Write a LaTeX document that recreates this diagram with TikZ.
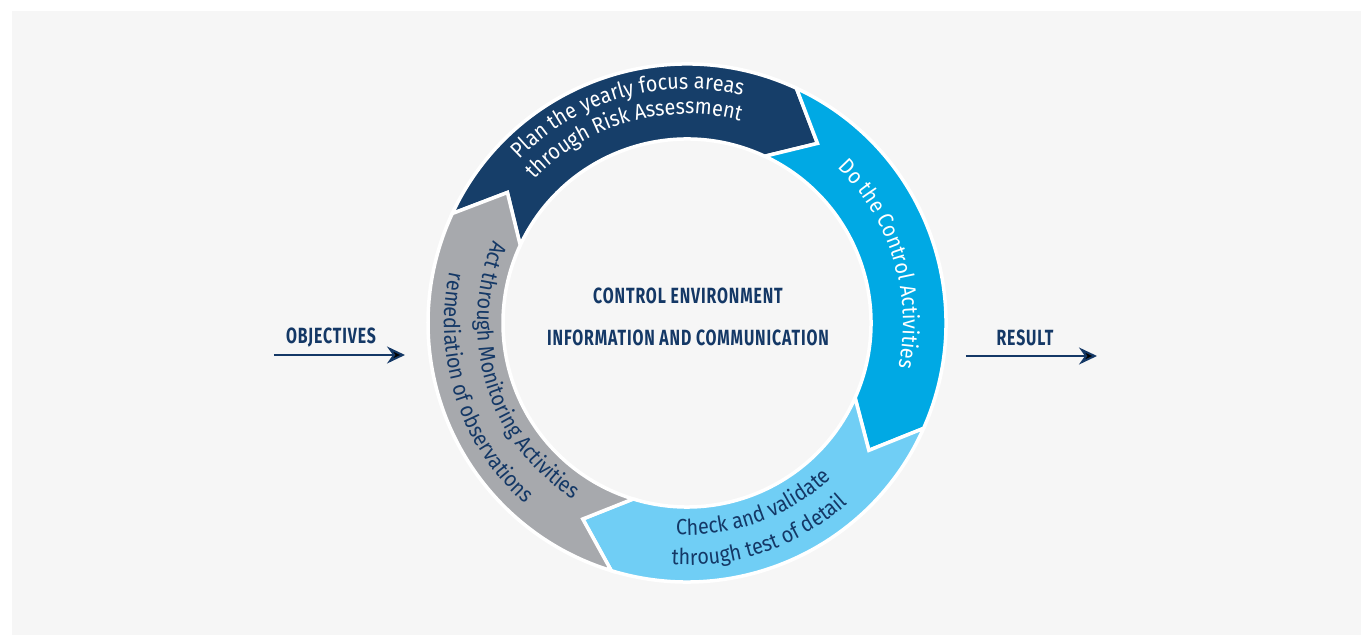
\documentclass[tikz,border=0pt]{standalone}
\usepackage{fontspec}
\setmainfont{Fira Sans}
\newfontfamily\condfont[FakeStretch=0.9]{Fira Sans}
\newfontfamily\headfont[FakeStretch=0.72,LetterSpace=4]{Fira Sans}
\usetikzlibrary{arrows.meta,decorations.text}

\definecolor{planblue}{RGB}{22,62,105}
\definecolor{doblue}{RGB}{0,169,228}
\definecolor{checkblue}{RGB}{112,206,245}
\definecolor{actgrey}{RGB}{167,169,173}
\definecolor{textnavy}{RGB}{20,56,102}
\definecolor{backgrey}{RGB}{246,246,246}

\newcommand{\Rout}{259}
\newcommand{\Rin}{184}
\newcommand{\Rmid}{222}
\newcommand{\ringfont}{\condfont\fontsize{22}{22}\selectfont}

% one arrow piece of the ring, clockwise from #1 to #2
\newcommand{\ringseg}[3]{
	\filldraw [fill=#3,draw=white,line width=3.5pt,line join=miter]
		(#1:\Rout) arc [start angle=#1,end angle=#2,radius=\Rout]
		-- ({#2-11}:\Rmid) -- (#2:\Rin)
		arc [start angle=#2,end angle=#1,radius=\Rin]
		-- ({#1-11}:\Rmid) -- cycle;
}

\tikzset{
	ringtext/.style={decorate,decoration={text along path,text align=center,text color=#1}},
	headtext/.style={text=textnavy,font=\headfont\bfseries\fontsize{22}{22}\selectfont},
	flowarrow/.style={draw=textnavy,line width=2pt,-{Stealth[length=18pt,width=17pt,inset=6pt]}}
}

\begin{document}
\begin{tikzpicture}[x=1pt,y=1pt]

	\useasboundingbox (-687,-312) rectangle (674,323);
	\fill [backgrey] (-675,-312) rectangle (674,312);

	\ringseg{155}{65}{planblue}
	\ringseg{65}{-24}{doblue}
	\ringseg{-24}{-107}{checkblue}
	\ringseg{253}{155}{actgrey}

	\path [ringtext=white,decoration={text={|\ringfont|Plan the yearly focus areas}}]
		(166:234) arc [start angle=166,end angle=46,radius=234];
	\path [ringtext=white,decoration={text={|\ringfont|through Risk Assessment}}]
		(166:209) arc [start angle=166,end angle=46,radius=209];

	\path [ringtext=white,decoration={text={|\ringfont|Do the Control Activities}}]
		(77:216) arc [start angle=77,end angle=-43,radius=216];

	\path [ringtext=textnavy,decoration={text={|\ringfont|Check and validate}}]
		(-130:212) arc [start angle=-130,end angle=-10,radius=212];
	\path [ringtext=textnavy,decoration={text={|\ringfont|through test of detail}}]
		(-131:242) arc [start angle=-131,end angle=-11,radius=242];

	\path [ringtext=textnavy,decoration={text={|\ringfont|Act through Monitoring Activities}}]
		(137:210) arc [start angle=137,end angle=257,radius=210];
	\path [ringtext=textnavy,decoration={text={|\ringfont|remediation of observations}}]
		(138:243) arc [start angle=138,end angle=258,radius=243];

	\node [headtext] (envir) at (1,27) {CONTROL ENVIRONMENT};
	\node [headtext] (infocom) at (1,-15) {INFORMATION AND COMMUNICATION};

	\coordinate (objstart) at (-413,-32);
	\coordinate (objend) at (-282,-32);
	\draw [flowarrow] (objstart) -- (objend);
	\node [headtext] (objectives) at (-356,-15) {OBJECTIVES};

	\coordinate (resstart) at (279,-33);
	\coordinate (resend) at (410,-33);
	\draw [flowarrow] (resstart) -- (resend);
	\node [headtext] (result) at (338,-15) {RESULT};

\end{tikzpicture}
\end{document}
